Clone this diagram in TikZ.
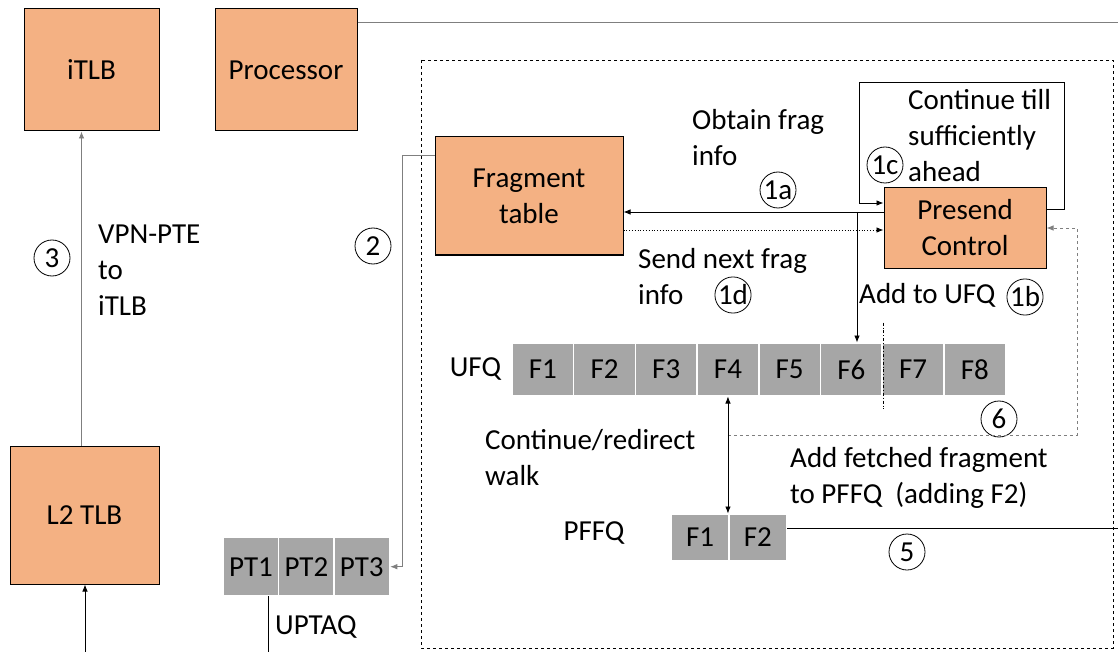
\documentclass[tikz,border=0pt]{standalone}
\usepackage{fontspec}
\setmainfont{Carlito}
\usepackage{xcolor}
\usepackage{tikz}
\usetikzlibrary{arrows.meta}
\usetikzlibrary{positioning}
\definecolor{boxorange}{HTML}{F4B183}
\definecolor{cellgray}{HTML}{A6A6A6}
\definecolor{linegray}{HTML}{7F7F7F}
\tikzset{
  unit/.style={draw=black, fill=boxorange, line width=1pt, align=center, inner sep=0pt},
  cell/.style={draw=white, fill=cellgray, line width=1.5pt, inner sep=0pt},
  numcirc/.style={circle, draw=black, line width=0.8pt, inner sep=0pt, minimum size=36pt},
  lbl/.style={align=left, anchor=west, inner sep=0pt},
  tip/.style={-{Latex[length=7pt, width=5.5pt]}},
  wire/.style={line width=0.8pt},
}
\begin{document}
\begin{tikzpicture}[x=1pt, y=-1pt, font=\fontsize{29}{36}\selectfont]
\useasboundingbox (0,0) rectangle (1118,652);
% blocks
\node[unit, minimum width=135, minimum height=122] (itlb) at (91.5,70) {iTLB};
\node[unit, minimum width=142, minimum height=122] (proc) at (286,70) {Processor};
\node[unit, minimum width=149, minimum height=138] (l2) at (84.5,515) {L2 TLB};
\node[unit, minimum width=188, minimum height=118] (frag) at (529,196) {Fragment\\table};
\node[unit, minimum width=162, minimum height=80] (presend) at (965,228) {Presend\\Control};
% queues
\foreach \i in {1,...,8}
  \node[cell, minimum width=61.7, minimum height=52.5] (u\i) at ({542.85+(\i-1)*61.7},369.5) {F\i};
\foreach \i in {1,2,3}
  \node[cell, minimum width=55.4, minimum height=58] (p\i) at ({251+(\i-1)*55.4},566.7) {PT\i};
\foreach \i in {1,2}
  \node[cell, minimum width=57.7, minimum height=46.5] (q\i) at ({700.1+(\i-1)*57.7},537.5) {F\i};
\node[left=10pt of u1, inner sep=0pt] (ufqlbl) {UFQ};
\node[inner sep=0pt] (pffqlbl) at (594,533) {PFFQ};
\node[lbl] (uptaqlbl) at (275,627) {UPTAQ};
% dashed walker box
\draw[dashed, wire] (421,60) rectangle (1113,648);
% labels
\node[lbl] (vpnlbl) at (98,270) {VPN-PTE\\to\\iTLB};
\node[lbl] (obtainlbl) at (692,138) {Obtain frag\\info};
\node[lbl] (contlbl) at (908,136) {Continue till\\sufficiently\\ahead};
\node[lbl] (sendlbl) at (638,277) {Send next frag\\info};
\node[lbl] (addlbl) at (859,295) {Add to UFQ};
\node[lbl] (walklbl) at (485,458) {Continue/redirect\\walk};
\node[lbl] (fetchlbl) at (790,478) {Add fetched fragment\\to PFFQ~ (adding F2)};
% step numbers
\node[numcirc] (c3) at (52,258) {3};
\node[numcirc] (c2) at (373,246) {2};
\node[numcirc] (c1a) at (778,190) {1a};
\node[numcirc] (c1c) at (885,165) {1c};
\node[numcirc] (c1d) at (733,295) {1d};
\node[numcirc] (c1b) at (1025,297) {1b};
\node[numcirc] (c6) at (999,419) {6};
\node[numcirc] (c5) at (907,552) {5};
% connectors
\coordinate (procout) at (1118,22);
\draw[wire, linegray] (proc.east |- procout) -- (procout);
\draw[wire, linegray, tip] ([xshift=-3pt]l2.north) -- ([xshift=-10pt]itlb.south);
\coordinate (l2in) at (85,652);
\draw[wire, tip] (l2in) -- (l2in |- l2.south);
\coordinate (turn2) at (402,155);
\draw[wire, linegray, tip] (turn2 -| frag.west) -- (turn2) |- (p3.east);
\coordinate (uptaq) at (268,652);
\draw[wire] (uptaq |- p1.south) -- (uptaq);
% 1c loop
\coordinate (loopR) at (1064,82);
\coordinate (loopL) at (859,203);
\draw[wire, tip] (presend.east |- 0,209) -| (loopR) -| (loopL) -- (presend.west |- loopL);
% 1a, 1b, 1d
\coordinate (branch) at (857,212);
\draw[wire, tip] (presend.west |- branch) -- (frag.east |- branch);
\draw[wire, tip] (branch) -- (branch |- u6.north);
\draw[wire, dotted, tip] (frag.east |- 0,230) -- (presend.west |- 0,230);
\draw[wire, dash dot] ([yshift=20pt]u6.north east) -- ([yshift=-12pt]u6.south east);
% 6 and 5
\coordinate (back6) at (1077,435);
\draw[wire, dashed, linegray, tip] (u4.south |- back6) -- (back6) |- (presend.east);
\draw[wire, {Latex[length=7pt, width=5.5pt]}-{Latex[length=7pt, width=5.5pt]}] (u4.south) -- (u4.south |- q1.north);
\coordinate (out5) at (1118,0);
\draw[wire] ([yshift=9.5pt]q2.east) -- ([yshift=9.5pt]q2.east -| out5);
\end{tikzpicture}
\end{document}
